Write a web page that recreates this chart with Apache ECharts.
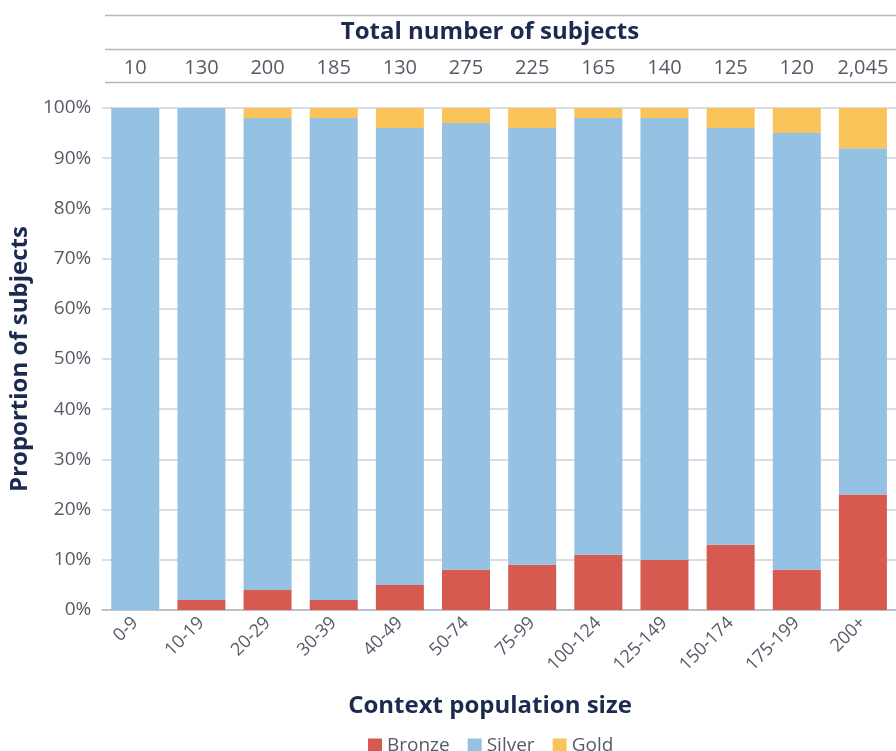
<!DOCTYPE html>
<html><head><meta charset="utf-8">
<script src="https://cdn.jsdelivr.net/npm/echarts@6/dist/echarts.min.js"></script>
<style>html,body{margin:0;padding:0;background:#fff}#c{width:896px;height:751px}</style>
</head><body><div id="c"></div>
<script>
const categories = ['0-9','10-19','20-29','30-39','40-49','50-74','75-99','100-124','125-149','150-174','175-199','200+'];
const totals = ['10','130','200','185','130','275','225','165','140','125','120','2,045'];
const bronze = [0,2,4,2,5,8,9,11,10,13,8,23];
const silver = [100,98,94,96,91,89,87,87,88,83,87,69];
const gold = [0,0,2,2,4,3,4,2,2,4,5,8];
const yTicks = [0,10,20,30,40,50,60,70,80,90,100];

const FONT = '"Open Sans", "Noto Sans", sans-serif';
const NAVY = '#1b2a4e';
const GREY = '#555a66';
const chart = echarts.init(document.getElementById('c'));
chart.setOption({
  animation: false,
  textStyle: {fontFamily: FONT},
  grid: {left: 98.5, top: 108, width: 803, height: 502},
  legend: {
    top: 731, left: 363, itemWidth: 14, itemHeight: 14, itemGap: 18, icon: 'rect',
    textStyle: {fontSize: 19, color: GREY, fontFamily: FONT},
    data: ['Bronze','Silver','Gold']
  },
  graphic: [
    {type:'line', shape:{x1:105,y1:15.5,x2:896,y2:15.5}, style:{stroke:'#b5b8bf', lineWidth:1.5}},
    {type:'line', shape:{x1:105,y1:49.5,x2:896,y2:49.5}, style:{stroke:'#b5b8bf', lineWidth:1.5}},
    {type:'line', shape:{x1:105,y1:82.5,x2:896,y2:82.5}, style:{stroke:'#b5b8bf', lineWidth:1.5}},
    {type:'text', x: 490, y: 32, style:{text:'Total number of subjects', font:'bold 24px ' + FONT, fill: NAVY, textAlign:'center', textVerticalAlign:'middle'}},
    {type:'text', x: 490, y: 706, style:{text:'Context population size', font:'bold 24px ' + FONT, fill: NAVY, textAlign:'center', textVerticalAlign:'middle'}}
  ],
  xAxis: [{
    type: 'category', data: categories,
    axisLine: {lineStyle: {color: '#b5b8bf', width: 1.5}},
    axisTick: {show: false},
    axisLabel: {interval: 0, rotate: 45, fontSize: 18, color: GREY, margin: 10, fontFamily: FONT}
  }, {
    type: 'category', data: totals, position: 'top', offset: 0,
    axisLine: {show: false}, axisTick: {show: false},
    axisLabel: {interval: 0, fontSize: 20, color: GREY, margin: 30, fontFamily: FONT}
  }],
  yAxis: {
    type: 'value', min: 0, max: 100, interval: 10,
    axisLabel: {formatter: v => yTicks.includes(v) ? v + '%' : '', fontSize: 19, color: GREY, margin: 11, fontFamily: FONT},
    axisLine: {show: false}, axisTick: {show: false},
    splitLine: {lineStyle: {color: '#cfd2d8', width: 1.5}},
    name: 'Proportion of subjects', nameLocation: 'middle', nameGap: 67,
    nameTextStyle: {fontSize: 24, fontWeight: 'bold', color: NAVY, fontFamily: FONT}
  },
  series: [
    {name:'Bronze', type:'bar', stack:'a', data: bronze, barWidth: 48, itemStyle:{color:'#d65a4f'}},
    {name:'Silver', type:'bar', stack:'a', data: silver, barWidth: 48, itemStyle:{color:'#95c1e3'}},
    {name:'Gold', type:'bar', stack:'a', data: gold, barWidth: 48, itemStyle:{color:'#f9c459'}}
  ]
});
</script></body></html>
